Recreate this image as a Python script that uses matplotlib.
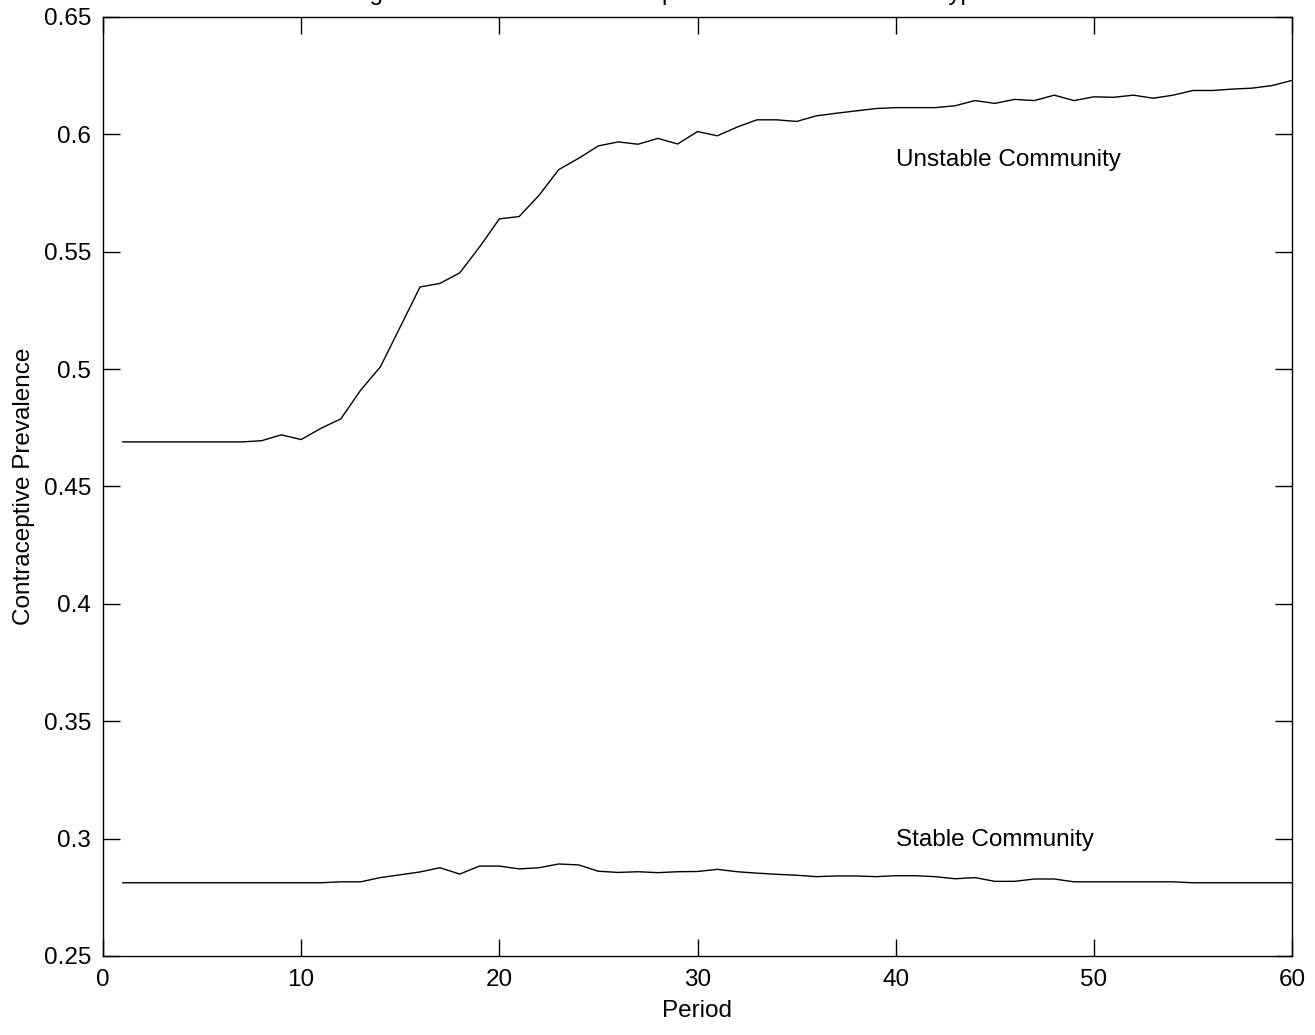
import matplotlib
matplotlib.use("Agg")
import matplotlib.pyplot as plt
import numpy as np

plt.rcParams["font.family"] = ["Liberation Sans", "DejaVu Sans"]

periods = np.arange(1, 61)

unstable = [
    0.469, 0.469, 0.469, 0.469, 0.469, 0.469, 0.469, 0.4695, 0.472, 0.470,
    0.4748, 0.4788, 0.491, 0.501, 0.518, 0.535, 0.5365, 0.541, 0.552, 0.564,
    0.565, 0.574, 0.585, 0.5898, 0.5951, 0.5968, 0.5958, 0.5983, 0.5959, 0.6012,
    0.5994, 0.6031, 0.6062, 0.6062, 0.6055, 0.6079, 0.609, 0.610, 0.611, 0.6114,
    0.6114, 0.6114, 0.6122, 0.6144, 0.6132, 0.6149, 0.6144, 0.6167, 0.6144, 0.616,
    0.6158, 0.6167, 0.6154, 0.6167, 0.6187, 0.6187, 0.6193, 0.6197, 0.6208, 0.623,
]

stable = [
    0.2812, 0.2812, 0.2812, 0.2812, 0.2812, 0.2812, 0.2812, 0.2812, 0.2812, 0.2812,
    0.2812, 0.2816, 0.2816, 0.2834, 0.2846, 0.2858, 0.2876, 0.2849, 0.2883, 0.2883,
    0.2871, 0.2876, 0.2892, 0.2888, 0.2861, 0.2856, 0.2859, 0.2855, 0.2859, 0.2860,
    0.2869, 0.2859, 0.2853, 0.2848, 0.2844, 0.2838, 0.2841, 0.2841, 0.2838, 0.2842,
    0.2842, 0.2838, 0.2829, 0.2834, 0.2818, 0.2818, 0.2828, 0.2828, 0.2816, 0.2816,
    0.2816, 0.2816, 0.2816, 0.2816, 0.2812, 0.2812, 0.2812, 0.2812, 0.2812, 0.2812,
]

xticks = [0, 10, 20, 30, 40, 50, 60]
yticks = [0.25, 0.3, 0.35, 0.4, 0.45, 0.5, 0.55, 0.6, 0.65]
ytick_labels = ["0.25", "0.3", "0.35", "0.4", "0.45", "0.5", "0.55", "0.6", "0.65"]

fs = 17.5

fig = plt.figure(figsize=(13.15, 10.35), dpi=100)
ax = fig.add_axes([103 / 1315, 79 / 1035, 1189 / 1315, 939 / 1035])

ax.plot(periods, unstable, color="black", lw=1.0)
ax.plot(periods, stable, color="black", lw=1.0)

ax.text(40, 0.589, "Unstable Community", fontsize=fs, ha="left", va="center")
ax.text(40, 0.2995, "Stable Community", fontsize=fs, ha="left", va="center")

ax.set_xlim(0, 60)
ax.set_ylim(0.25, 0.65)
ax.set_xticks(xticks)
ax.set_yticks(yticks)
ax.set_yticklabels(ytick_labels)
ax.tick_params(direction="in", length=12, width=1, top=True, right=True,
               labelsize=fs)
ax.tick_params(axis="x", pad=9.5)
ax.tick_params(axis="y", pad=8.5)
for sp in ax.spines.values():
    sp.set_linewidth(1.0)

ax.set_xlabel("Period", fontsize=fs, labelpad=6)
ax.set_ylabel("Contraceptive Prevalence", fontsize=fs, labelpad=6)

# title sits mostly above the top edge, as in the original export
fig.text(270 / 1315, 1.0, "Simulating the Evolution of Contraceptive Prevalence in Each Type",
         fontsize=fs, ha="left", va="baseline")

fig.savefig("out.png", dpi=100)
plt.close(fig)
